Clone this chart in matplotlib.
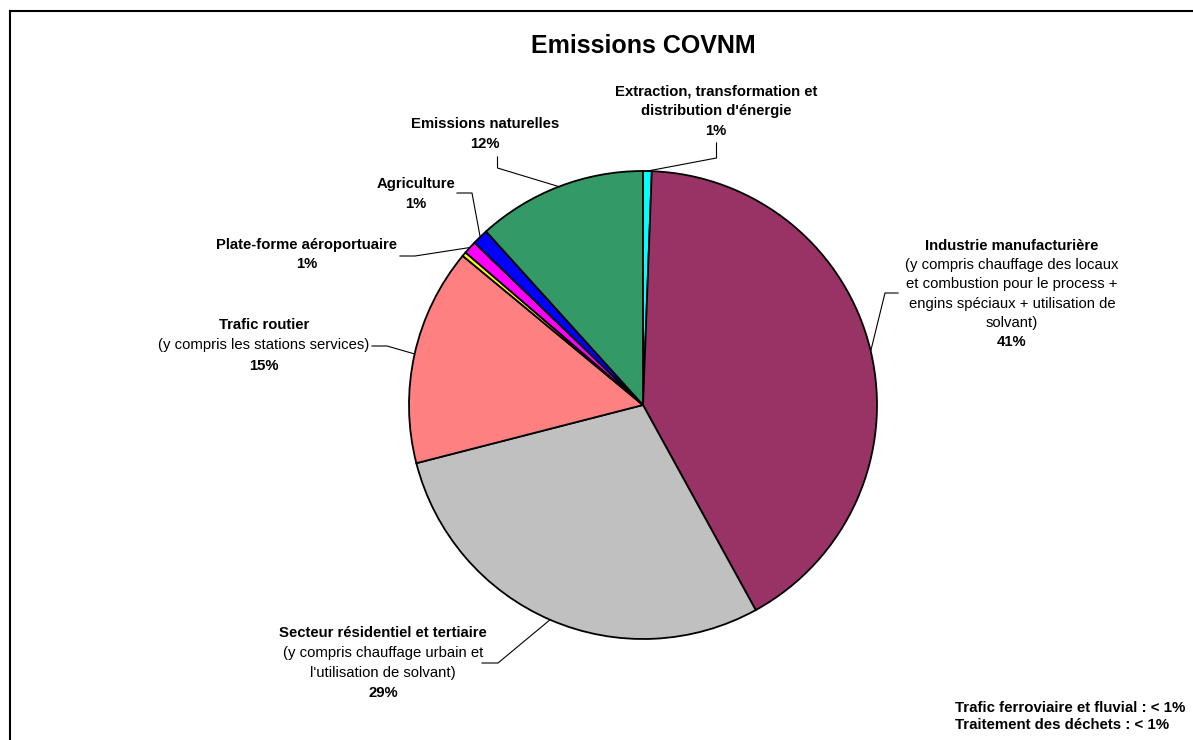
import matplotlib
matplotlib.use("Agg")
import matplotlib.pyplot as plt
import numpy as np

plt.rcParams['font.family'] = ['Liberation Sans', 'DejaVu Sans']

# Sector shares of COVNM emissions (%), clockwise from 12 o'clock
sectors = [
    "Extraction, transformation et distribution d'énergie",
    "Industrie manufacturière",
    "Secteur résidentiel et tertiaire",
    "Trafic routier",
    "Traitement des déchets",
    "Plate-forme aéroportuaire",
    "Agriculture",
    "Emissions naturelles",
]
shares = [0.6, 41.4, 29.0, 15.0, 0.3, 0.9, 1.1, 11.7]
colors = ["#00FFFF", "#993366", "#C0C0C0", "#FF8080",
          "#FFFF00", "#FF00FF", "#0000FF", "#339966"]

# Label blocks: (sector index, [(line, weight), ...])
labels = [
    (0, [("Extraction, transformation et", "bold"),
         ("distribution d'énergie", "bold"),
         ("1%", "bold")]),
    (7, [("Emissions naturelles", "bold"), ("12%", "bold")]),
    (6, [("Agriculture", "bold"), ("1%", "bold")]),
    (5, [("Plate-forme aéroportuaire", "bold"), ("1%", "bold")]),
    (3, [("Trafic routier", "bold"),
         ("(y compris les stations services)", "normal"),
         ("15%", "bold")]),
    (1, [("Industrie manufacturière", "bold"),
         ("(y compris chauffage des locaux", "normal"),
         ("et combustion pour le process +", "normal"),
         ("engins spéciaux + utilisation de", "normal"),
         ("solvant)", "normal"),
         ("41%", "bold")]),
    (2, [("Secteur résidentiel et tertiaire", "bold"),
         ("(y compris chauffage urbain et", "normal"),
         ("l'utilisation de solvant)", "normal"),
         ("29%", "bold")]),
]
footnote = ["Trafic ferroviaire et fluvial : < 1%",
            "Traitement des déchets : < 1%"]

# Layout (pixel space, y downward)
W, H = 1193, 740
cx, cy, R = 643, 405, 234
label_pos = {0: (716, 92), 7: (485, 124), 6: (416, 184), 5: (307, 245),
             3: (264, 325), 1: (1012, 246), 2: (383, 633)}
line_step = {0: 19.5, 7: 19.5, 6: 19.5, 5: 19.5, 3: 20.5, 1: 19.2, 2: 20}
# leader polylines: points from label side to elbow; last point is on the wedge
leader_pts = {0: [(716.5, 143), (716.5, 158)],
              7: [(497.5, 157), (497.5, 168)],
              6: [(457, 193), (472, 193)],
              5: [(400, 256), (415, 256)],
              3: [(372, 346), (387, 346)],
              1: [(898, 293), (885, 293)],
              2: [(482, 663), (498, 663)]}

fig = plt.figure(figsize=(W / 100, H / 100), dpi=100)
ax = fig.add_axes([0, 0, 1, 1])

ax.pie(shares, colors=colors, startangle=-90, counterclock=True,
       center=(cx, cy), radius=R,
       wedgeprops=dict(edgecolor="black", linewidth=1.3))
ax.set_xlim(0, W)
ax.set_ylim(H, 0)
ax.set_aspect("equal")
ax.axis("off")

vals = np.array(shares)
cum = np.cumsum(vals)
mid = (cum - vals / 2) / vals.sum() * 360.0

for idx, lines in labels:
    x0, y0 = label_pos[idx]
    for k, (txt, wt) in enumerate(lines):
        ax.text(x0, y0 + k * line_step[idx], txt, ha="center", va="center",
                fontsize=10.7, fontweight=wt, color="black")
    phi = np.radians(mid[idx])
    ex, ey = cx + R * np.sin(phi), cy - R * np.cos(phi)
    pts = leader_pts[idx] + [(ex, ey)]
    ax.plot([p[0] for p in pts], [p[1] for p in pts], color="black", lw=0.8)

ax.text(643, 46, "Emissions COVNM", ha="center", va="center",
        fontsize=18, fontweight="bold")

for k, txt in enumerate(footnote):
    ax.text(955, 708 + k * 17, txt, ha="left", va="center",
            fontsize=10.8, fontweight="bold")

# frame
ax.plot([9.5, 9.5], [H + 5, 10.5], color="black", lw=1.5, clip_on=False)
ax.plot([9.5, W + 5], [10.5, 10.5], color="black", lw=1.5, clip_on=False)

fig.savefig("out.png", dpi=100)
